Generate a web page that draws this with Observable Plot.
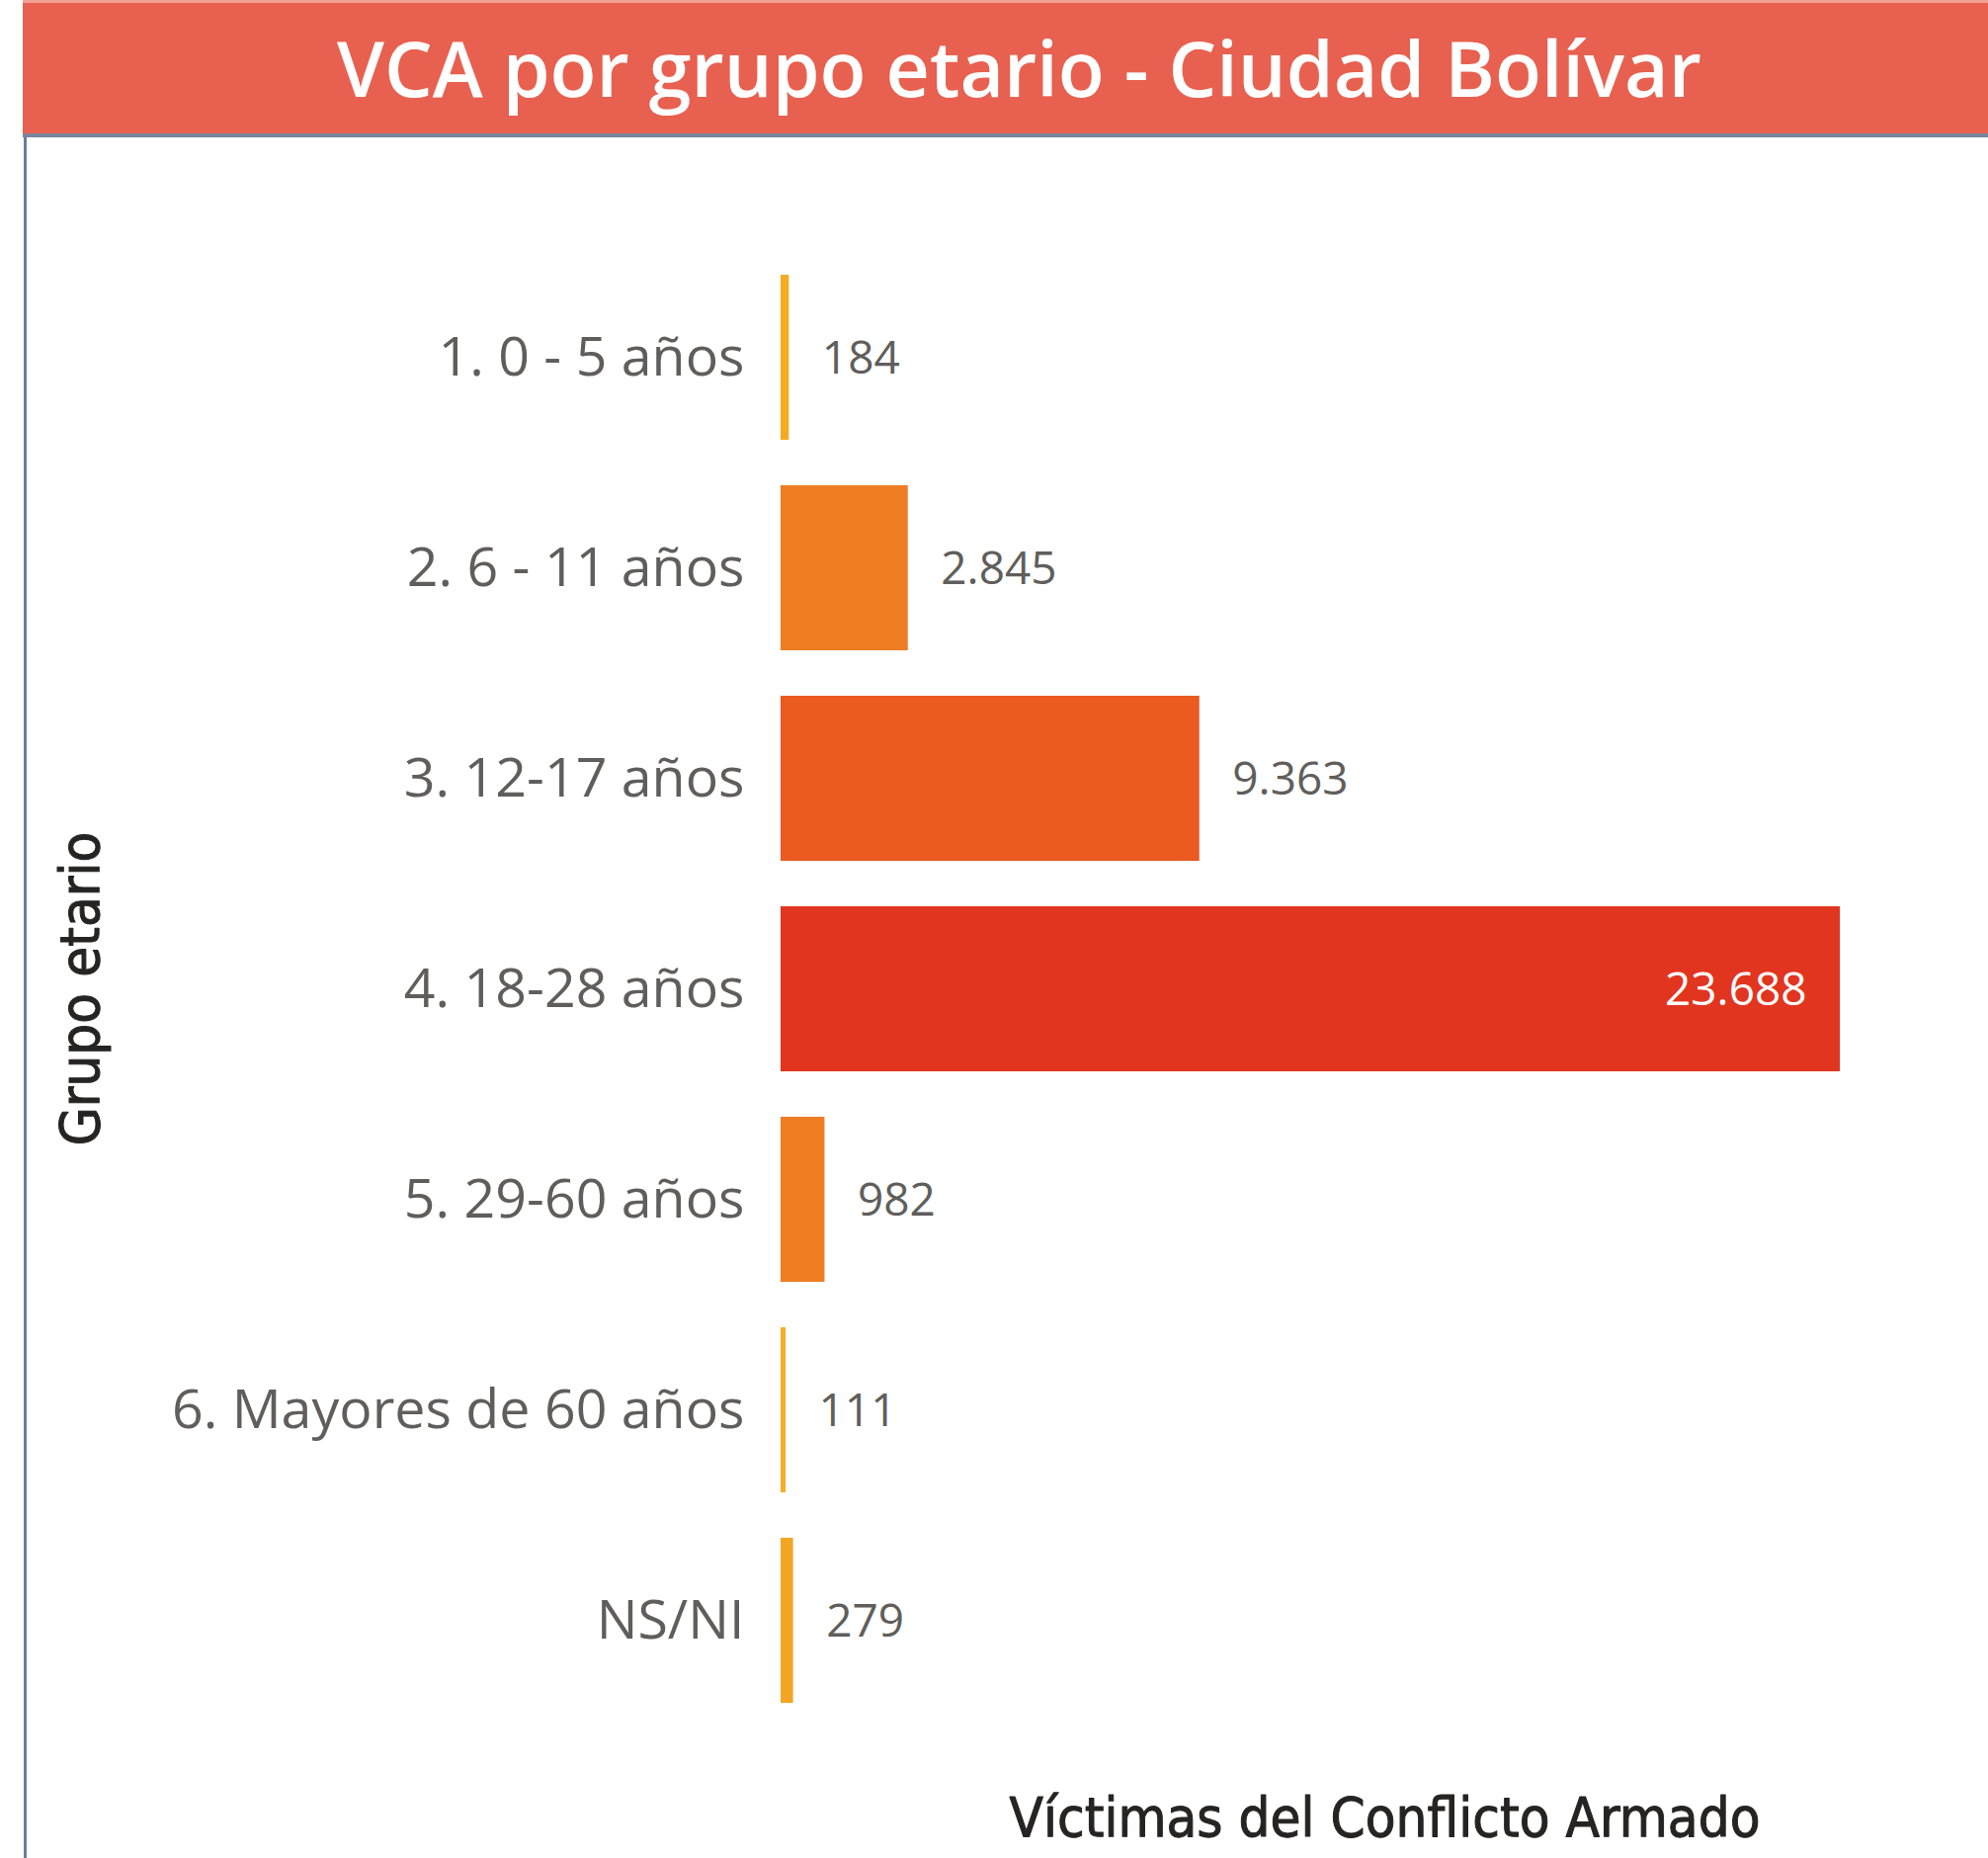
<!DOCTYPE html>
<html>
<head>
<meta charset="utf-8">
<script src="https://cdn.jsdelivr.net/npm/d3@7"></script>
<script src="https://cdn.jsdelivr.net/npm/@observablehq/plot@0.6"></script>
<style>
  html, body { margin: 0; padding: 0; background: #fff; }
  body { width: 2012px; height: 1880px; overflow: hidden; position: relative; font-family: "Open Sans", sans-serif; }
  #wrap { position: absolute; left: 23px; top: 0; width: 1989px; height: 1880px; }
  #title { box-sizing: border-box; height: 135px; border-top: 3px solid #F2A197; background: #E8604F; color: #fff;
           font-family: "Open Sans", sans-serif; font-size: 77px; font-weight: 600; text-align: center;
           line-height: 132px; padding-left: 28px; padding-top: 0px; white-space: nowrap; }
  #sep { height: 4px; background: #7787A0; }
  #chart { position: absolute; left: 1px; top: 139px; width: 1985px; height: 1741px; border-left: 3px solid #6E7E99; }
  #chart svg { display: block; }
</style>
</head>
<body>
<div id="wrap">
  <div id="title">VCA por grupo etario - Ciudad Bolívar</div>
  <div id="sep"></div>
  <div id="chart"></div>
</div>
<script>
const groups = ["1. 0 - 5 años", "2. 6 - 11 años", "3. 12-17 años", "4. 18-28 años", "5. 29-60 años", "6. Mayores de 60 años", "NS/NI"];
const values = [184, 2845, 9363, 23688, 982, 111, 279];
const barColors = ["#F4AB23", "#EE7D24", "#EA5A21", "#E23520", "#EE7D24", "#F5AE25", "#F4A526"];
const xTitle = "Víctimas del Conflicto Armado";
const yTitle = "Grupo etario";

const data = groups.map((g, i) => ({group: g, value: values[i]}));
const maxV = d3.max(values);
const fmt = d3.formatLocale({decimal: ",", thousands: ".", grouping: [3], currency: ["", ""]}).format(",d");

const W = 1985, H = 1741;
const marginLeft = 763, marginTop = 90.5, marginBottom = 109.5;

const chart = Plot.plot({
  width: W,
  height: H,
  marginLeft,
  marginRight: 0,
  marginTop,
  marginBottom,
  style: {fontFamily: "Open Sans", background: "transparent", overflow: "visible"},
  x: {domain: [0, 27000], axis: null},
  y: {domain: groups, padding: 0.2178, axis: null},
  color: {domain: groups, range: barColors},
  marks: [
    Plot.barX(data, {x: "value", y: "group", fill: "group"}),
    Plot.axisY({tickSize: 0, tickPadding: 37, fontSize: 55.5, fill: "#605E5C", label: null, dy: 0}),
    Plot.text(data.filter(d => d.value !== maxV), {
      x: "value", y: "group", text: d => fmt(d.value),
      textAnchor: "start", dx: 33, dy: 1, fontSize: 46, fill: "#605E5C"
    }),
    Plot.text(data.filter(d => d.value === maxV), {
      x: "value", y: "group", text: d => fmt(d.value),
      textAnchor: "end", dx: -34, dy: 1, fontSize: 46, fill: "#FFFFFF"
    }),
    Plot.text([xTitle], {
      frameAnchor: "bottom", lineAnchor: "bottom", textAnchor: "middle", dy: 86.5,
      fontSize: 56, fontFamily: "DejaVu Sans Condensed", fill: "#252423", stroke: "#252423", strokeWidth: 1
    }),
    Plot.text([yTitle], {
      frameAnchor: "left", textAnchor: "middle", lineAnchor: "middle", rotate: -90, dx: 55 - marginLeft,
      fontSize: 56, fontFamily: "DejaVu Sans Condensed", fill: "#252423", stroke: "#252423", strokeWidth: 1
    })
  ]
});
document.getElementById("chart").appendChild(chart);
</script>
</body>
</html>
